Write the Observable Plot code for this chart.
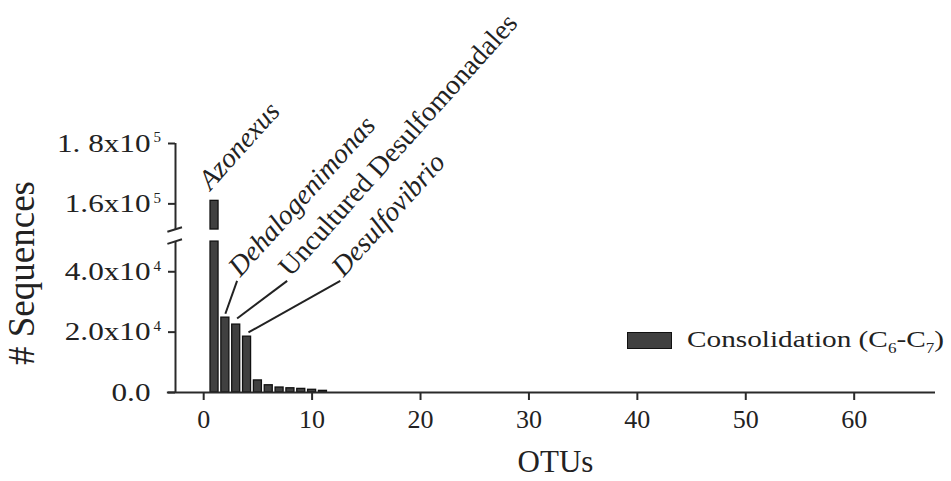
<!DOCTYPE html>
<html>
<head>
<meta charset="utf-8">
<script src="https://cdn.jsdelivr.net/npm/d3@7"></script>
<script src="https://cdn.jsdelivr.net/npm/@observablehq/plot@0.6"></script>
<style>
  body { margin: 0; background: #fff; }
  #wrap { position: relative; width: 951px; height: 481px; font-family: "Liberation Serif", "Times New Roman", serif; color: #222; overflow: hidden; }
  #legend { position: absolute; left: 627px; top: 328px; height: 23px; white-space: nowrap; }
  #legend .sw { position: absolute; left: 0; top: 4px; width: 43px; height: 15px; background: #404040; border: 1.5px solid #111; }
  #legend .tx { position: absolute; left: 60px; top: 0; font-size: 24px; line-height: 23px; display: inline-block; transform: scaleX(1.22); transform-origin: 0 50%; }
  #legend sub { font-size: 14px; vertical-align: -6px; line-height: 0; }
</style>
</head>
<body>
<div id="wrap"></div>
<script>
// ---- data ----
const otus = [1, 2, 3, 4, 5, 6, 7, 8, 9, 10, 11];
const seqs = [161000, 24800, 22500, 18500, 4000, 2400, 1650, 1400, 1200, 900, 550];
const xTicks = [0, 10, 20, 30, 40, 50, 60];
const yTickValues = [0, 20000, 40000, 160000, 180000];
const yTickBase = ["0.0", "2.0x10", "4.0x10", "1.6x10", "1. 8x10"];
const yTickExp = ["", "4", "4", "5", "5"];
const taxa = ["Azonexus", "Dehalogenimonas", "Uncultured Desulfomonadales", "Desulfovibrio"];
const taxaOtu = [1, 2, 3, 4];
const taxaItalic = [true, true, false, true];
const seriesName = "Consolidation";
const xTitle = "OTUs";
const yTitle = "# Sequences";

// ---- broken y axis mapping ----
const lowerMax = 50000, upperMin = 151500, gapUnits = 4000, yTop = 180000;
const brk = v => v <= lowerMax ? v : lowerMax + gapUnits + (v - upperMin);
const xDomain = [-2.6, 67.5];

const bars = otus.map((o, i) => ({otu: o, seq: seqs[i]}));
const segs = bars.flatMap(d => d.seq <= lowerMax
  ? [{otu: d.otu, y1: 0, y2: d.seq}]
  : [{otu: d.otu, y1: 0, y2: lowerMax}, {otu: d.otu, y1: brk(upperMin), y2: brk(d.seq)}]);
const halfW = 0.37;

// ---- annotation layout (leader lines from bar tops) ----
const leadDx0 = [0, 0.0, 0.08, 0.13];       // start offset from bar centre (OTU units)
const leadDy0 = [0, 1300, 2000, 1400];      // start offset above bar top
const leadDx1 = [0, 1.08, 4.7, 8.6];        // end offset from bar centre
const leadY1 = 37000;                       // common end level
const ann = taxa.map((t, i) => {
  const v = seqs[otus.indexOf(taxaOtu[i])];
  const o = taxaOtu[i];
  if (i === 0) return {t, italic: taxaItalic[i], lead: false, lx: o - 0.38, ly: brk(v) + 3300};
  return {t, italic: taxaItalic[i], lead: true,
    x1: o + leadDx0[i], y1: brk(v) + leadDy0[i], x2: o + leadDx1[i], y2: leadY1,
    lx: o + leadDx1[i] + 0.3, ly: leadY1 + 1000};
});

const axisColor = "#2a2a2a";
const chart = Plot.plot({
  width: 951, height: 481,
  marginLeft: 175, marginRight: 16, marginTop: 143, marginBottom: 89,
  x: {domain: xDomain, axis: null},
  y: {domain: [0, brk(yTop)], axis: null},
  style: {fontFamily: "'Liberation Serif', 'Times New Roman', serif", background: "#fff", color: "#222", overflow: "visible"},
  marks: [
    // bars
    Plot.rect(segs, {x1: d => d.otu - halfW, x2: d => d.otu + halfW, y1: "y1", y2: "y2",
      fill: "#404040", stroke: "#111", strokeWidth: 1.3}),
    // x axis line
    Plot.ruleY([0], {x1: -3.35, x2: xDomain[1], stroke: axisColor, strokeWidth: 2}),
    // y axis lines (broken)
    Plot.ruleX([{a: 0, b: lowerMax}, {a: brk(upperMin), b: brk(yTop)}],
      {x: xDomain[0], y1: "a", y2: "b", stroke: axisColor, strokeWidth: 2}),
    // break slashes
    Plot.link([lowerMax, brk(upperMin)], {x1: -3.35, x2: -2.0, y1: d => d - 750, y2: d => d + 750,
      stroke: axisColor, strokeWidth: 2}),
    // y ticks
    Plot.axisY(yTickValues.map(brk), {anchor: "left", tickSize: 7, tickFormat: () => "", label: null,
      stroke: axisColor, strokeWidth: 2}),
    // y tick labels
    Plot.text(yTickValues, {y: d => brk(d), text: (d, i) => yTickBase[i], frameAnchor: "left",
      dx: -25, textAnchor: "end", lineAnchor: "middle", fontSize: 26, fill: "#222", className: "ytl"}),
    Plot.text(yTickValues, {y: d => brk(d), text: (d, i) => yTickExp[i], frameAnchor: "left",
      dx: -22, dy: -6, textAnchor: "start", lineAnchor: "middle", fontSize: 15, fill: "#222"}),
    // x axis ticks + labels
    Plot.axisX(xTicks, {anchor: "bottom", tickSize: 8, tickPadding: 9, fontSize: 26, label: null,
      stroke: axisColor, strokeWidth: 2, fill: "#222"}),
    // leader lines
    Plot.link(ann.filter(d => d.lead), {x1: "x1", y1: "y1", x2: "x2", y2: "y2", stroke: "#222", strokeWidth: 2}),
    // taxon labels
    Plot.text(ann.filter(d => d.italic), {x: "lx", y: "ly", text: "t", rotate: -48, textAnchor: "start",
      lineAnchor: "bottom", fontSize: 28, fontStyle: "italic", fill: "#222"}),
    Plot.text(ann.filter(d => !d.italic), {x: "lx", y: "ly", text: "t", rotate: -48, textAnchor: "start",
      lineAnchor: "bottom", fontSize: 28, fill: "#222"}),
    // axis titles
    Plot.text([yTitle], {frameAnchor: "left", textAnchor: "middle", lineAnchor: "middle",
      dx: -153, dy: 5, rotate: -90, fontSize: 37, fill: "#222"}),
    Plot.text([xTitle], {frameAnchor: "bottom", textAnchor: "middle", lineAnchor: "middle",
      dy: 70, fontSize: 31, fill: "#222"})
  ]
});

// slightly widen the y tick labels like the reference
chart.querySelectorAll(".ytl text").forEach(t => {
  const tr = t.getAttribute("transform") || "";
  t.setAttribute("transform", tr + " scale(1.2,1)");
});

const wrap = document.getElementById("wrap");
wrap.appendChild(chart);

const legend = document.createElement("div");
legend.id = "legend";
legend.innerHTML = `<div class="sw"></div><div class="tx">${seriesName} (C<sub>6</sub>-C<sub>7</sub>)</div>`;
wrap.appendChild(legend);
</script>
</body>
</html>
